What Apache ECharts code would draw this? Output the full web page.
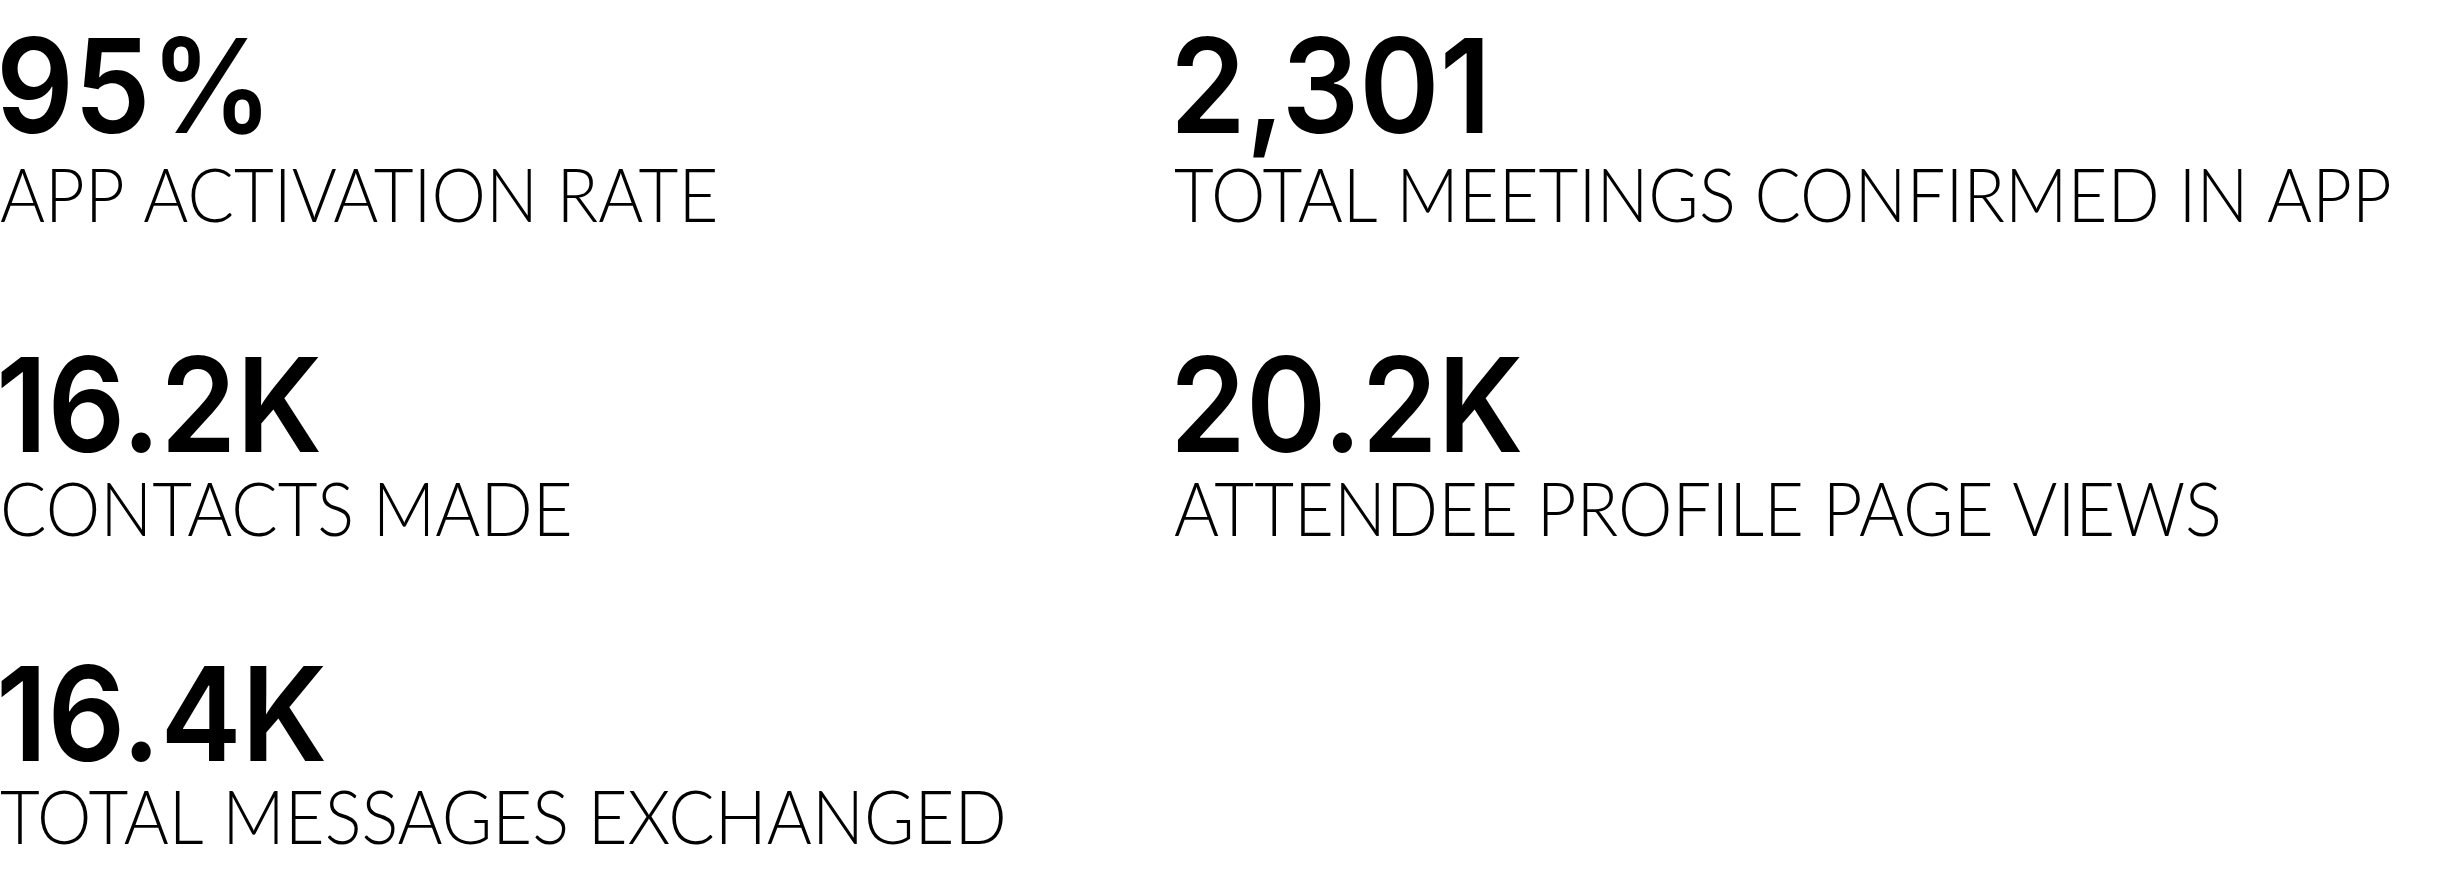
<!DOCTYPE html>
<html>
<head>
<meta charset="utf-8">
<script src="https://cdn.jsdelivr.net/npm/echarts@6/dist/echarts.min.js"></script>
<style>
html,body{margin:0;padding:0;background:#fff;}
#chart{width:2440px;height:880px;}
</style>
</head>
<body>
<div id="chart"></div>
<script>
// KPI values and labels
const kpiValues = ['95%', '2,301', '16.2K', '20.2K', '16.4K'];
const kpiLabels = [
  'APP ACTIVATION RATE',
  'TOTAL MEETINGS CONFIRMED IN APP',
  'CONTACTS MADE',
  'ATTENDEE PROFILE PAGE VIEWS',
  'TOTAL MESSAGES EXCHANGED'
];

const chart = echarts.init(document.getElementById('chart'));
const colX = [0, 1174];
const rowNumBase = [138, 457, 766];
const rowLabelBase = [227, 541, 849];
const graphics = [];
kpiValues.forEach((v, i) => {
  const col = i % 2, row = Math.floor(i / 2);
  graphics.push({
    type: 'text',
    x: colX[col] - 4,
    y: rowNumBase[row] - 110,
    scaleX: 0.93,
    style: {
      text: v,
      font: '600 131px Inter',
      fill: '#000'
    }
  });
  graphics.push({
    type: 'text',
    x: colX[col],
    y: rowLabelBase[row] - 66,
    scaleX: 0.93,
    style: {
      text: kpiLabels[i],
      font: '300 74px Lato',
      fill: '#000'
    }
  });
});
chart.setOption({
  backgroundColor: '#fff',
  graphic: graphics
});
</script>
</body>
</html>
